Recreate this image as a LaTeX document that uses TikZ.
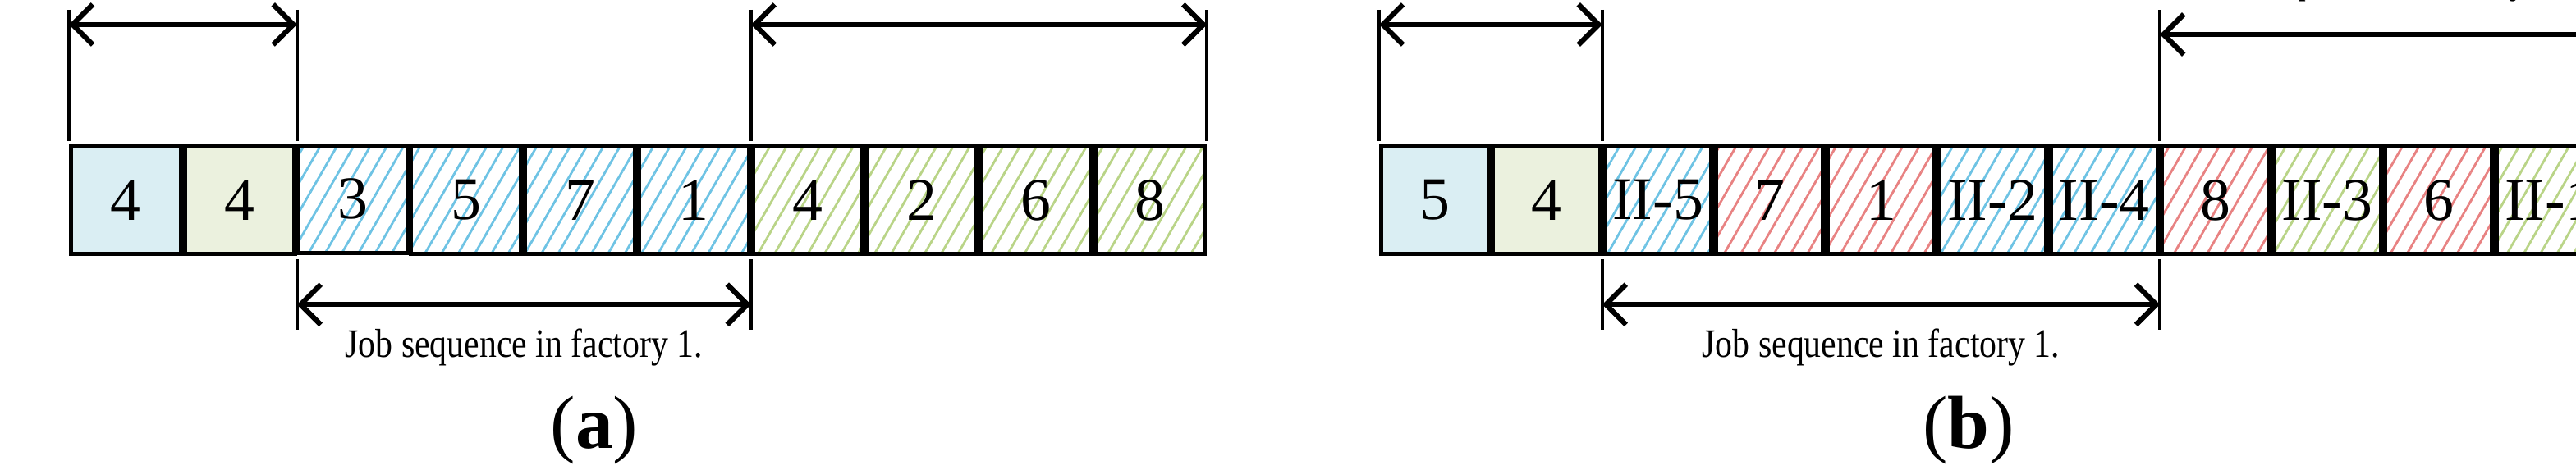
\documentclass[tikz,border=0pt]{standalone}
\usepackage{fontspec}
\setmainfont{Liberation Serif}
\usetikzlibrary{patterns.meta,arrows.meta}
\definecolor{bfill}{RGB}{218,238,243}
\definecolor{gfill}{RGB}{235,241,222}
\definecolor{bh}{RGB}{110,195,228}
\definecolor{gh}{RGB}{185,212,135}
\definecolor{rh}{RGB}{232,130,130}
\tikzset{
 cell/.style={draw,line width=1.5pt,minimum width=#1,minimum height=1.31cm,inner sep=0,anchor=north west,font=\fontsize{21}{21}\selectfont},
 hb/.style={pattern={Lines[angle=60,distance=5pt,line width=0.8pt]},pattern color=bh},
 hg/.style={pattern={Lines[angle=60,distance=5pt,line width=0.8pt]},pattern color=gh},
 hr/.style={pattern={Lines[angle=60,distance=5pt,line width=0.8pt]},pattern color=rh},
 dim/.style={line width=1.8pt,{Straight Barb[length=7pt,width=14pt]}-{Straight Barb[length=7pt,width=14pt]}},
 tick/.style={line width=1.2pt},
 lab/.style={font=\fontsize{14}{16}\selectfont,align=center,xscale=0.85},
 captxt/.style={font=\fontsize{26}{26}\selectfont}
}
\begin{document}
\begin{tikzpicture}
\useasboundingbox (0,0) rectangle (31.38,-5.73);
% panel a
\def\w{1.336}
\node[cell=\w cm,fill=bfill] (a1) at (0.84,-1.76) {4};
\node[cell=\w cm,fill=gfill] (a2) at (a1.north east) {4};
\node[cell=\w cm,hb] (a3) at (a2.north east) {3};
\node[cell=\w cm,hb] (a4) at (a3.north east) {5};
\node[cell=\w cm,hb] (a5) at (a4.north east) {7};
\node[cell=\w cm,hb] (a6) at (a5.north east) {1};
\node[cell=\w cm,hg] (a7) at (a6.north east) {4};
\node[cell=\w cm,hg] (a8) at (a7.north east) {2};
\node[cell=\w cm,hg] (a9) at (a8.north east) {6};
\node[cell=\w cm,hg] (a10) at (a9.north east) {8};
% top dims
\draw[tick] ([yshift=1.64cm]a1.north west) coordinate (ua) -- ([yshift=0.04cm]a1.north west);
\draw[tick] ([yshift=1.64cm]a2.north east) coordinate (ub) -- ([yshift=0.04cm]a2.north east);
\draw[dim] ([yshift=-0.18cm]ua) -- node[lab,above=0.5cm] {Number of jobs assigned\\to factory 1 and 2.} ([yshift=-0.18cm]ub);
\draw[tick] ([yshift=1.64cm]a6.north east) coordinate (uc) -- ([yshift=0.04cm]a6.north east);
\draw[tick] ([yshift=1.64cm]a10.north east) coordinate (ud) -- ([yshift=0.04cm]a10.north east);
\draw[dim] ([yshift=-0.18cm]uc) -- node[lab,above=0.25cm] {Job sequence in factory 2.} ([yshift=-0.18cm]ud);
\draw[tick] ([yshift=-0.04cm]a2.south east) coordinate (la) -- ([yshift=-0.9cm]a2.south east);
\draw[tick] ([yshift=-0.04cm]a6.south east) coordinate (lb) -- ([yshift=-0.9cm]a6.south east);
\draw[dim] ([yshift=-0.55cm]la) -- node[lab,below=0.15cm] {Job sequence in factory 1.} ([yshift=-0.55cm]lb);
\node[captxt] (ca) at (7.24,-5.25) {(\textbf{a})};
% panel b
\def\v{1.306}
\node[cell=\v cm,fill=bfill] (b1) at (16.8,-1.76) {5};
\node[cell=\v cm,fill=gfill] (b2) at (b1.north east) {4};
\node[cell=\v cm,hb] (b3) at (b2.north east) {II-5};
\node[cell=\v cm,hr] (b4) at (b3.north east) {7};
\node[cell=\v cm,hr] (b5) at (b4.north east) {1};
\node[cell=\v cm,hb] (b6) at (b5.north east) {II-2};
\node[cell=\v cm,hb] (b7) at (b6.north east) {II-4};
\node[cell=\v cm,hr] (b8) at (b7.north east) {8};
\node[cell=\v cm,hg] (b9) at (b8.north east) {II-3};
\node[cell=\v cm,hr] (b10) at (b9.north east) {6};
\node[cell=\v cm,hg] (b11) at (b10.north east) {II-1};
\draw[tick] ([yshift=1.64cm]b1.north west) coordinate (va) -- ([yshift=0.04cm]b1.north west);
\draw[tick] ([yshift=1.64cm]b2.north east) coordinate (vb) -- ([yshift=0.04cm]b2.north east);
\draw[dim] ([yshift=-0.18cm]va) -- node[lab,above=0.5cm] {Number of jobs assigned\\to factory 1 and 2.} ([yshift=-0.18cm]vb);
\draw[tick] ([yshift=1.64cm]b7.north east) coordinate (vc) -- ([yshift=0.04cm]b7.north east);
\draw[tick] ([yshift=1.64cm]b11.north east) coordinate (vd) -- ([yshift=0.04cm]b11.north east);
\draw[dim] ([yshift=-0.3cm]vc) -- node[lab,above=0.25cm] {Job sequence in factory 2.} ([yshift=-0.3cm]vd);
\draw[tick] ([yshift=-0.04cm]b2.south east) coordinate (lc) -- ([yshift=-0.9cm]b2.south east);
\draw[tick] ([yshift=-0.04cm]b7.south east) coordinate (ld) -- ([yshift=-0.9cm]b7.south east);
\draw[dim] ([yshift=-0.55cm]lc) -- node[lab,below=0.15cm] {Job sequence in factory 1.} ([yshift=-0.55cm]ld);
\node[captxt] (cb) at (23.98,-5.25) {(\textbf{b})};
\end{tikzpicture}
\end{document}
